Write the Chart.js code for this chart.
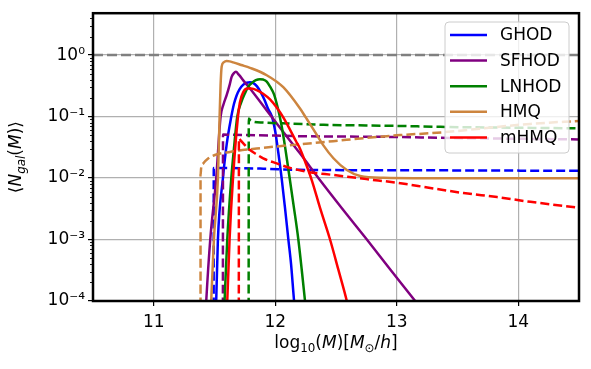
<!DOCTYPE html>
<html>
<head>
<meta charset="utf-8">
<script src="https://cdn.jsdelivr.net/npm/chart.js@4.4.0/dist/chart.umd.min.js"></script>
<style>
  html, body { margin: 0; padding: 0; background: #fff; }
</style>
</head>
<body>
<canvas id="chart" width="591" height="369"></canvas>
<script>
// values, [log10(M), <N_gal>]
const models = ['GHOD', 'SFHOD', 'LNHOD', 'HMQ', 'mHMQ'];
const colors = ['blue', 'purple', 'green', 'peru', 'red'];

const ghodCen = [[11.512,8e-5],[11.514,1e-4],[11.528,1e-3],[11.569,0.0098],[11.60,0.035],[11.638,0.099],[11.66,0.16],[11.682,0.22],[11.707,0.28],[11.737,0.33],[11.765,0.355],[11.792,0.36],[11.82,0.35],[11.85,0.31],[11.88,0.25],[11.91,0.19],[11.94,0.135],[11.973,0.1],[12.0,0.057],[12.025,0.026],[12.053,0.0098],[12.08,0.0033],[12.108,0.001],[12.13,4e-4],[12.155,1e-4],[12.16,8e-5]];
const sfhodCen = [[11.428,7e-5],[11.432,1e-4],[11.465,1e-3],[11.514,0.0098],[11.55,0.099],[11.575,0.16],[11.60,0.223],[11.624,0.325],[11.641,0.443],[11.66,0.51],[11.676,0.535],[11.70,0.48],[11.75,0.36],[11.792,0.287],[11.93,0.126],[12.066,0.056],[12.2,0.0257],[12.369,0.0092],[12.55,0.0032],[12.754,1e-3],[12.95,3.2e-4],[13.152,1e-4],[13.19,8e-5]];
const lnhodCen = [[11.58,7e-5],[11.583,1e-4],[11.605,1e-3],[11.638,0.0098],[11.66,0.03],[11.687,0.099],[11.72,0.17],[11.751,0.24],[11.78,0.31],[11.806,0.35],[11.84,0.39],[11.874,0.406],[11.90,0.40],[11.93,0.37],[11.96,0.30],[11.99,0.23],[12.02,0.14],[12.05,0.075],[12.08,0.033],[12.11,0.013],[12.15,0.0037],[12.19,0.001],[12.245,1e-4],[12.25,8e-5]];
const hmqCen = [[11.47,7e-5],[11.473,1e-4],[11.495,1e-3],[11.528,0.0098],[11.542,0.099],[11.55,0.325],[11.559,0.65],[11.575,0.76],[11.60,0.8],[11.625,0.79],[11.654,0.76],[11.72,0.69],[11.792,0.62],[11.93,0.47],[12.066,0.3],[12.204,0.135],[12.254,0.095],[12.314,0.062],[12.396,0.034],[12.479,0.021],[12.589,0.0135],[12.699,0.0108],[12.891,0.0101],[13.5,0.0099],[14.5,0.0099]];
const mhmqCen = [[11.60,7e-5],[11.605,1e-4],[11.624,1e-3],[11.652,0.0098],[11.693,0.099],[11.709,0.17],[11.737,0.25],[11.77,0.285],[11.80,0.285],[11.847,0.27],[11.90,0.235],[11.957,0.19],[12.012,0.14],[12.066,0.097],[12.12,0.062],[12.17,0.04],[12.204,0.03],[12.25,0.0176],[12.301,0.0092],[12.37,0.0032],[12.451,0.001],[12.52,3.2e-4],[12.589,1e-4],[12.60,8e-5]];

const ghodSat = [[11.493,5e-5],[11.494,0.0146],[11.9,0.0142],[12.2,0.0136],[13.0,0.0134],[14.5,0.0131]];
const sfhodSat = [[11.569,5e-5],[11.57,0.051],[11.65,0.0505],[12.0,0.049],[12.2,0.048],[13.0,0.0465],[13.36,0.0451],[14.5,0.0425]];
const lnhodSat = [[11.781,5e-5],[11.782,0.093],[11.80,0.085],[11.9,0.08],[12.1,0.077],[12.4,0.0735],[13.0,0.0705],[13.36,0.068],[14.5,0.0643]];
const hmqSat = [[11.385,5e-5],[11.385,0.011],[11.39,0.0145],[11.407,0.0172],[11.45,0.021],[11.503,0.0237],[11.627,0.0266],[11.847,0.0302],[12.122,0.0342],[12.476,0.0398],[12.754,0.045],[13.028,0.050],[13.33,0.0545],[14.1,0.076],[14.5,0.085]];
const mhmqSat = [[11.70,5e-5],[11.701,0.044],[11.715,0.041],[11.737,0.0365],[11.792,0.0285],[11.85,0.024],[11.901,0.0209],[12.012,0.0173],[12.122,0.0146],[12.27,0.0126],[12.48,0.0112],[12.75,0.0096],[13.0,0.0084],[13.276,0.0069],[13.55,0.0057],[13.826,0.0049],[14.1,0.0041],[14.5,0.0033]];

const unityLine = [[10.5,1],[14.5,1]];

const xTickVals = [11, 12, 13, 14];
const yTickVals = [1e-4, 1e-3, 1e-2, 1e-1, 1];
const yTickLabels = ['10⁻⁴', '10⁻³', '10⁻²', '10⁻¹', '10⁰'];

const cen = [ghodCen, sfhodCen, lnhodCen, hmqCen, mhmqCen];
const sat = [ghodSat, sfhodSat, lnhodSat, hmqSat, mhmqSat];

const FONT = 'DejaVu Sans';
const LW = 2.5;

const toXY = arr => arr.map(p => ({x: p[0], y: p[1]}));

let datasets = [{
  label: '',
  data: toXY(unityLine),
  borderColor: 'gray',
  borderWidth: 2.5,
  borderDash: [10, 4],
  pointRadius: 0
}];
models.forEach((name, i) => {
  datasets.push({
    label: name,
    data: toXY(cen[i]),
    borderColor: colors[i],
    borderWidth: LW,
    pointRadius: 0,
    cubicInterpolationMode: 'monotone',
    inLegend: true
  });
  datasets.push({
    label: '',
    data: toXY(sat[i]),
    borderColor: colors[i],
    borderWidth: LW,
    borderDash: [9, 4],
    pointRadius: 0,
    cubicInterpolationMode: 'monotone'
  });
});
// matplotlib draws later lines on top
datasets.forEach((d, i) => { d.order = -i; });

function drawRich(ctx, parts, x0, y0, size) {
  const fontOf = p => (p[1] ? 'italic ' : '') + (p[2] ? size * 0.7 : size) + 'px "' + FONT + '"';
  let w = 0;
  parts.forEach(p => { ctx.font = fontOf(p); w += ctx.measureText(p[0]).width; });
  let x = x0 - w / 2;
  ctx.textAlign = 'left';
  ctx.textBaseline = 'alphabetic';
  parts.forEach(p => {
    ctx.font = fontOf(p);
    ctx.fillText(p[0], x, y0 + (p[2] ? size * 0.22 : 0));
    x += ctx.measureText(p[0]).width;
  });
}

const xTitle = [['log', 0, 0], ['10', 0, 1], ['(', 0, 0], ['M', 1, 0], [')[', 0, 0], ['M', 1, 0], ['⊙', 0, 1], ['/', 0, 0], ['h', 1, 0], [']', 0, 0]];
const yTitle = [['⟨', 0, 0], ['N', 1, 0], ['gal', 1, 1], ['(', 0, 0], ['M', 1, 0], [')', 0, 0], ['⟩', 0, 0]];

const extras = {
  id: 'extras',
  afterDatasetsDraw(chart) {
    const ctx = chart.ctx;
    // legend box, upper right
    const bx = 445, by = 22, bw = 124, bh = 131;
    ctx.save();
    ctx.beginPath();
    ctx.roundRect(bx, by, bw, bh, 4);
    ctx.fillStyle = 'rgba(255,255,255,0.8)';
    ctx.fill();
    ctx.strokeStyle = '#cccccc';
    ctx.lineWidth = 1;
    ctx.stroke();
    const items = chart.data.datasets.filter(d => d.inLegend);
    items.forEach((d, i) => {
      const y = 35 + i * 25.6;
      ctx.beginPath();
      ctx.moveTo(450, y);
      ctx.lineTo(487, y);
      ctx.strokeStyle = d.borderColor;
      ctx.lineWidth = LW;
      ctx.stroke();
      ctx.fillStyle = '#000';
      ctx.font = '17px "' + FONT + '"';
      ctx.textAlign = 'left';
      ctx.textBaseline = 'middle';
      ctx.fillText(d.label, 500, y + 1);
    });
    ctx.restore();
  },
  afterDraw(chart) {
    const ctx = chart.ctx, a = chart.chartArea, ys = chart.scales.y;
    ctx.save();
    // minor ticks on the log axis
    ctx.strokeStyle = '#000';
    ctx.lineWidth = 0.9;
    for (let d = -4; d <= 0; d++) {
      for (let k = 2; k <= 9; k++) {
        const v = k * Math.pow(10, d);
        if (v > ys.max) continue;
        const py = Math.round(ys.getPixelForValue(v)) + 0.5;
        ctx.beginPath();
        ctx.moveTo(a.left, py);
        ctx.lineTo(a.left - 3, py);
        ctx.stroke();
      }
    }
    // frame
    ctx.lineWidth = 2.5;
    ctx.strokeRect(a.left, a.top, a.right - a.left, a.bottom - a.top);
    // axis titles
    ctx.fillStyle = '#000';
    drawRich(ctx, xTitle, (a.left + a.right) / 2, 348, 17);
    ctx.translate(21, (a.top + a.bottom) / 2);
    ctx.rotate(-Math.PI / 2);
    drawRich(ctx, yTitle, 0, 0, 17);
    ctx.restore();
  }
};

Chart.defaults.font.family = FONT;
Chart.defaults.font.size = 17;
Chart.defaults.color = '#000';

const myChart = new Chart(document.getElementById('chart').getContext('2d'), {
  type: 'line',
  data: { datasets: datasets },
  options: {
    responsive: false,
    animation: false,
    layout: { padding: { top: 13, right: 12, left: 0, bottom: 0 } },
    plugins: { legend: { display: false }, tooltip: { enabled: false } },
    scales: {
      x: {
        type: 'linear',
        min: 10.5,
        max: 14.5,
        afterBuildTicks: s => { s.ticks = xTickVals.map(v => ({value: v})); },
        afterFit: s => { s.height = 68; },
        ticks: { padding: 6, maxRotation: 0, callback: v => String(v) },
        grid: { color: '#b0b0b0', lineWidth: 1.2, tickColor: '#000', tickLength: 5, tickWidth: 1.2 },
        border: { display: false }
      },
      y: {
        type: 'logarithmic',
        min: 1e-4,
        max: 4.8,
        afterBuildTicks: s => { s.ticks = yTickVals.map(v => ({value: v})); },
        afterFit: s => { s.width = 93; },
        ticks: { padding: 3, callback: (v, i) => yTickLabels[i] },
        grid: { color: '#b0b0b0', lineWidth: 1.2, tickColor: '#000', tickLength: 5, tickWidth: 1.2 },
        border: { display: false }
      }
    }
  },
  plugins: [extras]
});
</script>
</body>
</html>
